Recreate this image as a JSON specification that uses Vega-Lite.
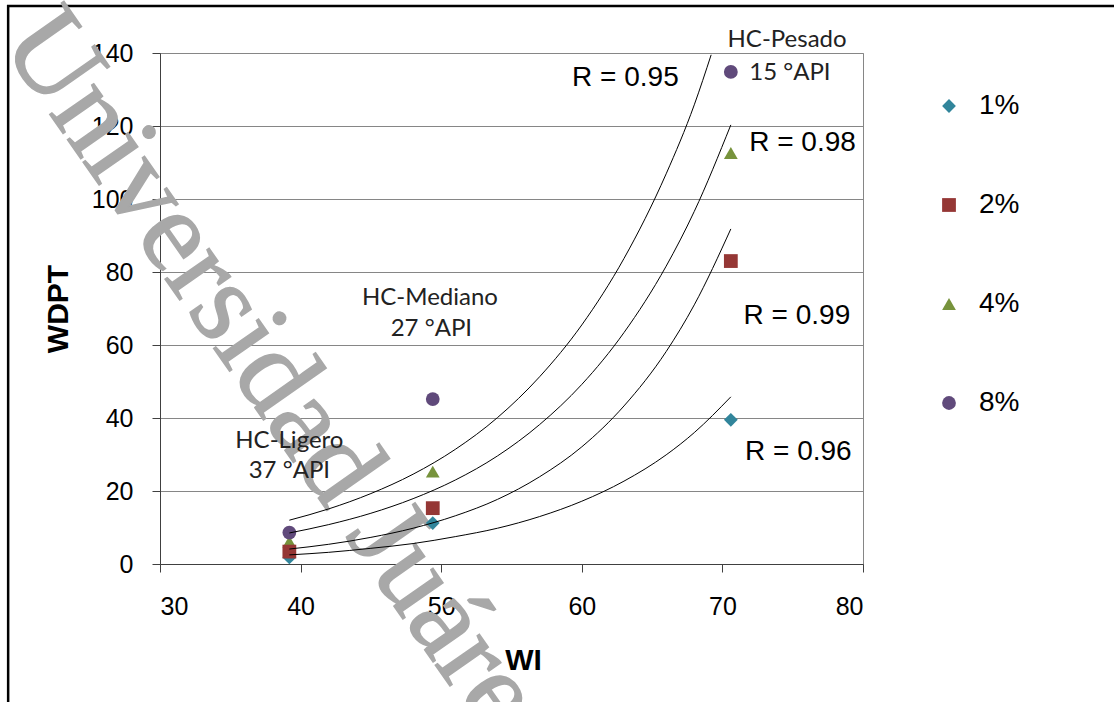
{
  "$schema": "https://vega.github.io/schema/vega-lite/v6.json",
  "width": 703,
  "height": 511,
  "autosize": {"type": "none"},
  "padding": {"left": 160, "top": 53, "right": 251, "bottom": 138},
  "background": "white",
  "config": {
    "font": "Liberation Sans",
    "view": {"stroke": "#868686", "strokeWidth": 1}
  },
  "datasets": {
    "marco": [
      {"WI": 19.2, "WI2": 100, "WDPT": 152.9, "WDPT2": -60}
    ],
    "marca": [
      {"WI": 18.6, "WDPT": 142.7, "texto": "Universidad Juárez"}
    ],
    "puntos": [
      {"serie": "1%", "WI": 39.2, "WDPT": 1.8},
      {"serie": "1%", "WI": 49.4, "WDPT": 11.2},
      {"serie": "1%", "WI": 70.6, "WDPT": 39.5},
      {"serie": "4%", "WI": 39.2, "WDPT": 6.1},
      {"serie": "4%", "WI": 49.4, "WDPT": 25.3},
      {"serie": "4%", "WI": 70.6, "WDPT": 112.6},
      {"serie": "2%", "WI": 39.2, "WDPT": 3.4},
      {"serie": "2%", "WI": 49.4, "WDPT": 15.3},
      {"serie": "2%", "WI": 70.6, "WDPT": 83.0},
      {"serie": "8%", "WI": 39.2, "WDPT": 8.6},
      {"serie": "8%", "WI": 49.4, "WDPT": 45.2},
      {"serie": "8%", "WI": 70.6, "WDPT": 134.8}
    ],
    "tendencias": [
      {"serie": "8%", "WI": 39.2, "WDPT": 12.0},
      {"serie": "8%", "WI": 42, "WDPT": 15.1},
      {"serie": "8%", "WI": 45, "WDPT": 19.3},
      {"serie": "8%", "WI": 48, "WDPT": 24.6},
      {"serie": "8%", "WI": 51, "WDPT": 31.4},
      {"serie": "8%", "WI": 54, "WDPT": 40.1},
      {"serie": "8%", "WI": 57, "WDPT": 51.3},
      {"serie": "8%", "WI": 60, "WDPT": 65.5},
      {"serie": "8%", "WI": 63, "WDPT": 83.7},
      {"serie": "8%", "WI": 66, "WDPT": 106.9},
      {"serie": "8%", "WI": 68, "WDPT": 125.8},
      {"serie": "8%", "WI": 69.2, "WDPT": 139.5},
      {"serie": "4%", "WI": 39.2, "WDPT": 8.5},
      {"serie": "4%", "WI": 42, "WDPT": 10.8},
      {"serie": "4%", "WI": 45, "WDPT": 13.9},
      {"serie": "4%", "WI": 48, "WDPT": 17.9},
      {"serie": "4%", "WI": 51, "WDPT": 23.0},
      {"serie": "4%", "WI": 54, "WDPT": 29.6},
      {"serie": "4%", "WI": 57, "WDPT": 38.2},
      {"serie": "4%", "WI": 60, "WDPT": 49.2},
      {"serie": "4%", "WI": 63, "WDPT": 63.4},
      {"serie": "4%", "WI": 66, "WDPT": 81.6},
      {"serie": "4%", "WI": 68, "WDPT": 96.6},
      {"serie": "4%", "WI": 70.6, "WDPT": 120.3},
      {"serie": "2%", "WI": 39.2, "WDPT": 4.1},
      {"serie": "2%", "WI": 42, "WDPT": 5.4},
      {"serie": "2%", "WI": 45, "WDPT": 7.3},
      {"serie": "2%", "WI": 48, "WDPT": 9.8},
      {"serie": "2%", "WI": 51, "WDPT": 13.2},
      {"serie": "2%", "WI": 54, "WDPT": 17.7},
      {"serie": "2%", "WI": 57, "WDPT": 23.9},
      {"serie": "2%", "WI": 60, "WDPT": 32.1},
      {"serie": "2%", "WI": 63, "WDPT": 43.3},
      {"serie": "2%", "WI": 66, "WDPT": 58.2},
      {"serie": "2%", "WI": 68, "WDPT": 71.0},
      {"serie": "2%", "WI": 70.6, "WDPT": 91.8},
      {"serie": "1%", "WI": 39.2, "WDPT": 2.5},
      {"serie": "1%", "WI": 42, "WDPT": 3.2},
      {"serie": "1%", "WI": 45, "WDPT": 4.3},
      {"serie": "1%", "WI": 48, "WDPT": 5.6},
      {"serie": "1%", "WI": 51, "WDPT": 7.5},
      {"serie": "1%", "WI": 54, "WDPT": 9.8},
      {"serie": "1%", "WI": 57, "WDPT": 13.0},
      {"serie": "1%", "WI": 60, "WDPT": 17.2},
      {"serie": "1%", "WI": 63, "WDPT": 22.7},
      {"serie": "1%", "WI": 66, "WDPT": 29.9},
      {"serie": "1%", "WI": 68, "WDPT": 36.0},
      {"serie": "1%", "WI": 70.6, "WDPT": 45.8}
    ],
    "crudos": [
      {"WI": 74.6, "WDPT": 143.6, "texto": "HC-Pesado"},
      {"WI": 74.8, "WDPT": 134.5, "texto": "15 °API"},
      {"WI": 49.2, "WDPT": 72.9, "texto": "HC-Mediano"},
      {"WI": 49.3, "WDPT": 64.4, "texto": "27 °API"},
      {"WI": 39.2, "WDPT": 33.7, "texto": "HC-Ligero"},
      {"WI": 39.2, "WDPT": 25.5, "texto": "37 °API"}
    ],
    "ajustes": [
      {"WI": 63.1, "WDPT": 133.2, "texto": "R = 0.95"},
      {"WI": 75.7, "WDPT": 115.3, "texto": "R = 0.98"},
      {"WI": 75.3, "WDPT": 67.9, "texto": "R = 0.99"},
      {"WI": 75.4, "WDPT": 30.7, "texto": "R = 0.96"}
    ]
  },
  "encoding": {
    "x": {
      "field": "WI",
      "type": "quantitative",
      "scale": {"domain": [30, 80], "nice": false, "zero": false},
      "axis": {
        "title": "WI",
        "values": [30, 40, 50, 60, 70, 80],
        "grid": false,
        "domainColor": "#404040",
        "tickColor": "#404040",
        "tickSize": 8,
        "labelFontSize": 25,
        "labelColor": "black",
        "labelPadding": 22,
        "titleFontSize": 30,
        "titleFontWeight": "bold",
        "titleColor": "black",
        "titlePadding": 26,
        "titleX": 363
      }
    },
    "y": {
      "field": "WDPT",
      "type": "quantitative",
      "scale": {"domain": [0, 140], "nice": false},
      "axis": {
        "title": "WDPT",
        "values": [0, 20, 40, 60, 80, 100, 120, 140],
        "grid": true,
        "gridColor": "#868686",
        "gridWidth": 1,
        "domainColor": "#404040",
        "tickColor": "#404040",
        "tickSize": 8,
        "labelFontSize": 25,
        "labelColor": "black",
        "labelPadding": 19,
        "titleFontSize": 30,
        "titleFontWeight": "bold",
        "titleColor": "black",
        "titlePadding": 18
      }
    }
  },
  "layer": [
    {
      "data": {"name": "marco"},
      "mark": {"type": "rect", "fill": "transparent", "stroke": "black", "strokeWidth": 2.5},
      "encoding": {
        "x2": {"field": "WI2"},
        "y2": {"field": "WDPT2"}
      }
    },
    {
      "data": {"name": "marca"},
      "mark": {
        "type": "text",
        "font": "Liberation Serif",
        "fontSize": 117,
        "angle": 55,
        "align": "left",
        "baseline": "alphabetic",
        "fill": "#a8a8a8",
        "stroke": "#a8a8a8",
        "strokeWidth": 1.5
      },
      "encoding": {"text": {"field": "texto"}}
    },
    {
      "data": {"name": "puntos"},
      "mark": {"type": "point", "filled": true, "opacity": 1, "size": 190, "strokeWidth": 0},
      "encoding": {
        "color": {
          "field": "serie",
          "type": "nominal",
          "scale": {
            "domain": ["1%", "2%", "4%", "8%"],
            "range": ["#31859b", "#953735", "#77933c", "#604a7b"]
          },
          "legend": {
            "title": null,
            "orient": "none",
            "legendX": 775,
            "legendY": 39,
            "rowPadding": 71,
            "labelFontSize": 28,
            "labelColor": "black",
            "labelOffset": 16,
            "symbolSize": 190,
            "symbolStrokeWidth": 0
          }
        },
        "shape": {
          "field": "serie",
          "type": "nominal",
          "scale": {
            "domain": ["1%", "2%", "4%", "8%"],
            "range": ["diamond", "square", "triangle-up", "circle"]
          },
          "legend": {
            "title": null,
            "orient": "none",
            "legendX": 775,
            "legendY": 39,
            "rowPadding": 71,
            "labelFontSize": 28,
            "labelColor": "black",
            "labelOffset": 16,
            "symbolSize": 190,
            "symbolStrokeWidth": 0
          }
        }
      }
    },
    {
      "data": {"name": "tendencias"},
      "mark": {"type": "line", "color": "black", "strokeWidth": 1, "interpolate": "monotone"},
      "encoding": {"detail": {"field": "serie", "type": "nominal"}}
    },
    {
      "data": {"name": "crudos"},
      "mark": {"type": "text", "font": "Lato", "fontSize": 24, "color": "#222222", "align": "center", "baseline": "middle"},
      "encoding": {"text": {"field": "texto"}}
    },
    {
      "data": {"name": "ajustes"},
      "mark": {"type": "text", "font": "Liberation Sans", "fontSize": 28, "color": "black", "align": "center", "baseline": "middle"},
      "encoding": {"text": {"field": "texto"}}
    }
  ]
}
